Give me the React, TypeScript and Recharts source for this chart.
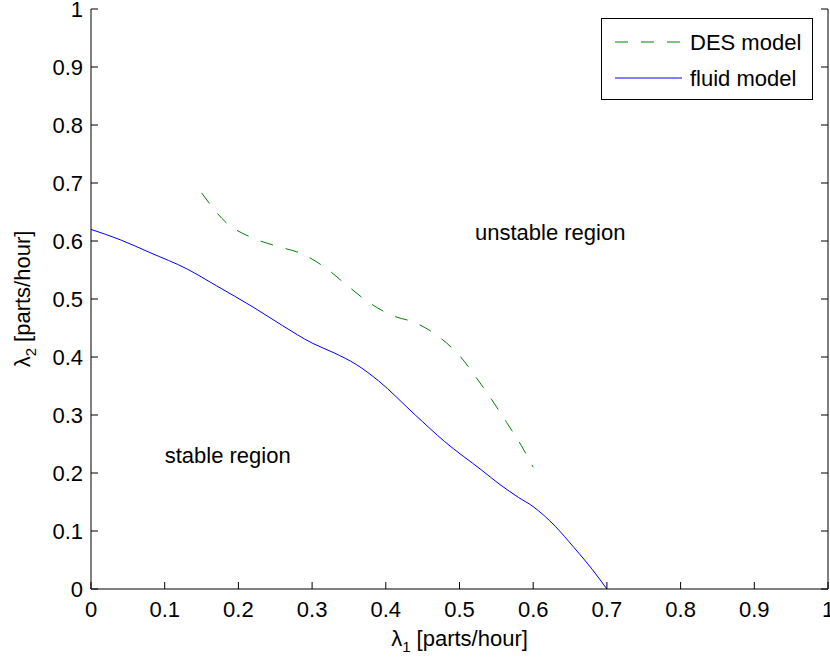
import React from 'react';
import { LineChart, Line, XAxis, YAxis, Legend, ReferenceDot } from 'recharts';

const xTicks = [0, 0.1, 0.2, 0.3, 0.4, 0.5, 0.6, 0.7, 0.8, 0.9, 1];
const yTicks = [0, 0.1, 0.2, 0.3, 0.4, 0.5, 0.6, 0.7, 0.8, 0.9, 1];

const fluidX = [0, 0.04, 0.08, 0.13, 0.17, 0.22, 0.26, 0.3, 0.33, 0.36, 0.39, 0.44, 0.48, 0.53, 0.555, 0.58, 0.6, 0.63, 0.655, 0.68, 0.7];
const fluidY = [0.62, 0.602, 0.58, 0.552, 0.523, 0.486, 0.454, 0.424, 0.407, 0.387, 0.359, 0.3, 0.254, 0.205, 0.18, 0.158, 0.142, 0.108, 0.072, 0.034, 0];

const desX = [0.15, 0.184, 0.216, 0.252, 0.286, 0.318, 0.347, 0.376, 0.408, 0.442, 0.474, 0.501, 0.523, 0.544, 0.564, 0.584, 0.6];
const desY = [0.683, 0.631, 0.607, 0.591, 0.578, 0.554, 0.524, 0.495, 0.472, 0.458, 0.433, 0.401, 0.364, 0.326, 0.287, 0.247, 0.21];

const seriesNames = ['DES model', 'fluid model'];
const seriesColors = ['#008000', '#0000ff'];
const seriesDash = ['13 13', undefined];

const annotationX = [0.1, 0.521];
const annotationY = [0.217, 0.602];
const annotationText = ['stable region', 'unstable region'];

const fluidData = fluidX.map((x, i) => ({ x, y: fluidY[i] }));
const desData = desX.map((x, i) => ({ x, y: desY[i] }));

const FONT = '"Liberation Sans", Arial, Helvetica, sans-serif';
const FS = 22;
const fmt = (v: number) => String(v);

const BottomTick = (p: any) => (
  <g>
    <line x1={p.x} x2={p.x} y1={p.y} y2={p.y - 7} stroke="#000" strokeWidth={1} />
    <text x={p.x} y={p.y + 28} textAnchor="middle" fontSize={FS} fontFamily={FONT} fill="#000">
      {fmt(p.payload.value)}
    </text>
  </g>
);
const TopTick = (p: any) => (
  <line x1={p.x} x2={p.x} y1={p.y} y2={p.y + 7} stroke="#000" strokeWidth={1} />
);
const LeftTick = (p: any) => (
  <g>
    <line x1={p.x} x2={p.x + 7} y1={p.y} y2={p.y} stroke="#000" strokeWidth={1} />
    <text x={p.x - 8} y={p.y + 8} textAnchor="end" fontSize={FS} fontFamily={FONT} fill="#000">
      {fmt(p.payload.value)}
    </text>
  </g>
);
const RightTick = (p: any) => (
  <line x1={p.x} x2={p.x - 7} y1={p.y} y2={p.y} stroke="#000" strokeWidth={1} />
);

const XLabel = (props: any) => {
  const vb = props.viewBox;
  return (
    <text x={vb.x + vb.width / 2} y={vb.y + 57} textAnchor="middle" fontSize={FS} fontFamily={FONT} fill="#000">
      <tspan>λ</tspan>
      <tspan dy={6} fontSize={15}>1</tspan>
      <tspan dy={-6}> [parts/hour]</tspan>
    </text>
  );
};

const YLabel = (props: any) => {
  const vb = props.viewBox;
  const cx = 30;
  const cy = vb.y + vb.height / 2;
  return (
    <text x={cx} y={cy} textAnchor="middle" fontSize={FS} fontFamily={FONT} fill="#000" transform={`rotate(-90 ${cx} ${cy})`}>
      <tspan>λ</tspan>
      <tspan dy={6} fontSize={15}>2</tspan>
      <tspan dy={-6}> [parts/hour]</tspan>
    </text>
  );
};

const LegendBox = () => (
  <svg width={213} height={83} style={{ display: 'block' }}>
    <rect x={0.5} y={0.5} width={211} height={81} fill="#fff" stroke="#000" strokeWidth={1} />
    {seriesNames.map((name, i) => (
      <g key={name}>
        <line x1={14} x2={81} y1={24 + i * 36} y2={24 + i * 36} stroke={seriesColors[i]} strokeWidth={1} strokeDasharray={seriesDash[i]} />
        <text x={89} y={32 + i * 36} fontSize={FS} fontFamily={FONT} fill="#000">{name}</text>
      </g>
    ))}
  </svg>
);

const AnnLabel = (text: string) => (props: any) => {
  const vb = props.viewBox;
  return (
    <text x={vb.x} y={vb.y} fontSize={FS} fontFamily={FONT} fill="#000">{text}</text>
  );
};

export default function App() {
  return (
    <div style={{ position: 'absolute', left: 0, top: 0, width: 830, height: 658, background: '#fff' }}>
      <LineChart width={830} height={658} margin={{ top: 9, right: 0, bottom: 0, left: 0 }}>
        <XAxis
          xAxisId="b"
          type="number"
          dataKey="x"
          domain={[0, 1]}
          ticks={xTicks}
          interval={0}
          height={69}
          tickSize={0}
          tickMargin={0}
          tick={BottomTick}
          axisLine={{ stroke: '#000', strokeWidth: 1 }}
          allowDataOverflow
          label={<XLabel />}
        />
        <XAxis
          xAxisId="t"
          orientation="top"
          type="number"
          dataKey="x"
          domain={[0, 1]}
          ticks={xTicks}
          interval={0}
          height={0}
          tickSize={0}
          tickMargin={0}
          tick={TopTick}
          axisLine={{ stroke: '#000', strokeWidth: 1 }}
          allowDataOverflow
        />
        <YAxis
          yAxisId="l"
          type="number"
          domain={[0, 1]}
          ticks={yTicks}
          interval={0}
          width={91}
          tickSize={0}
          tickMargin={0}
          tick={LeftTick}
          axisLine={{ stroke: '#000', strokeWidth: 1 }}
          allowDataOverflow
          label={<YLabel />}
        />
        <YAxis
          yAxisId="r"
          orientation="right"
          type="number"
          domain={[0, 1]}
          ticks={yTicks}
          interval={0}
          width={2}
          tickSize={0}
          tickMargin={0}
          tick={RightTick}
          axisLine={{ stroke: '#000', strokeWidth: 1 }}
          allowDataOverflow
        />
        <Line
          xAxisId="b"
          yAxisId="l"
          data={desData}
          dataKey="y"
          name={seriesNames[0]}
          type="monotone"
          stroke={seriesColors[0]}
          strokeWidth={1}
          strokeDasharray={seriesDash[0]}
          dot={false}
          activeDot={false}
          isAnimationActive={false}
        />
        <Line
          xAxisId="b"
          yAxisId="l"
          data={fluidData}
          dataKey="y"
          name={seriesNames[1]}
          type="monotone"
          stroke={seriesColors[1]}
          strokeWidth={1}
          dot={false}
          activeDot={false}
          isAnimationActive={false}
        />
        {annotationText.map((t, i) => (
          <ReferenceDot
            key={t}
            xAxisId="b"
            yAxisId="l"
            x={annotationX[i]}
            y={annotationY[i]}
            r={0}
            fill="none"
            stroke="none"
            label={AnnLabel(t)}
          />
        ))}
        <Legend
          layout="vertical"
          align="center"
          verticalAlign="middle"
          content={<LegendBox />}
          wrapperStyle={{ position: 'absolute', left: 601, top: 18, width: 213, height: 83 }}
        />
      </LineChart>
    </div>
  );
}
